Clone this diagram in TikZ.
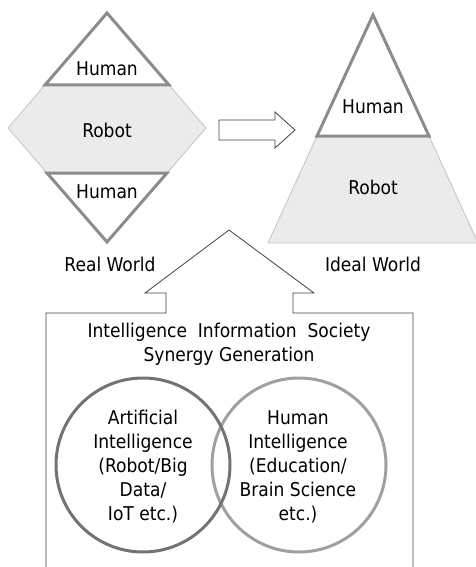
\documentclass[tikz,border=0pt]{standalone}
\usepackage{fontspec}
\setmainfont{DejaVu Sans Condensed}
\definecolor{rw_line}{RGB}{140, 140, 140}
\definecolor{rw_fill}{RGB}{235, 235, 235}
\definecolor{rw_edge}{RGB}{195, 195, 195}
\definecolor{ai_ring}{RGB}{115, 115, 115}
\definecolor{hi_ring}{RGB}{160, 160, 160}
\usetikzlibrary{positioning}

\begin{document}
\begin{tikzpicture}[x=1pt, y=-1pt, font=\fontsize{19}{24}\selectfont,
            lbl/.style={align=center, inner sep=0pt},
            tri/.style={draw=rw_line, line width=3pt, fill=white},
            band/.style={draw=rw_edge, fill=rw_fill, line width=0.8pt},
            outl/.style={draw=black!75, line width=0.8pt}]
            \useasboundingbox (0,0) rectangle (475,567);
            % real world
            \draw[band] (45,85) -- (8,128) -- (47,173) -- (167,173)
              -- (206,128) -- (169,85) -- cycle;
            \draw[tri] (107,13) -- (45,85) -- (169,85) -- cycle;
            \draw[tri] (47,173) -- (167,173) -- (107,242) -- cycle;
            \node[lbl] (rw_top) at (107,69) {Human};
            \node[lbl] (rw_mid) at (107,130) {Robot};
            \node[lbl] (rw_bot) at (107,192) {Human};
            \node[lbl] (rw) at (110,264) {Real World};
            % arrow
            \draw[outl] (219,120) -- (275,120) -- (275,112) -- (295,130)
              -- (275,148) -- (275,140) -- (219,140) -- cycle;
            % ideal world
            \draw[band] (317,136) -- (429,136) -- (478,243) -- (268,243) -- cycle;
            \draw[tri] (373,15) -- (317,136) -- (429,136) -- cycle;
            \node[lbl] (iw_top) at (373,107) {Human};
            \node[lbl] (iw_bot) at (373,187) {Robot};
            \node[lbl] (iw) at (373,264) {Ideal World};
            % society
            \draw[outl] (46,575) -- (46,313) -- (166,313) -- (166,293)
              -- (145,293) -- (229,230) -- (314,293) -- (293,293)
              -- (293,313) -- (413,313) -- (413,575);
            \node[lbl] (soc) at (229,344)
              {Intelligence\ \ Information\ \ Society\\Synergy Generation};
            \draw[hi_ring, line width=3pt] (299,465) circle (87pt);
            \draw[ai_ring, line width=3pt] (143,465) circle (87pt);
            \node[lbl] (ai) at (143,467)
              {Artificial\\Intelligence\\(Robot/Big\\Data/\\IoT etc.)};
            \node[lbl] (hi) at (298,467)
              {Human\\Intelligence\\(Education/\\Brain Science\\etc.)};
          \end{tikzpicture}
\end{document}
